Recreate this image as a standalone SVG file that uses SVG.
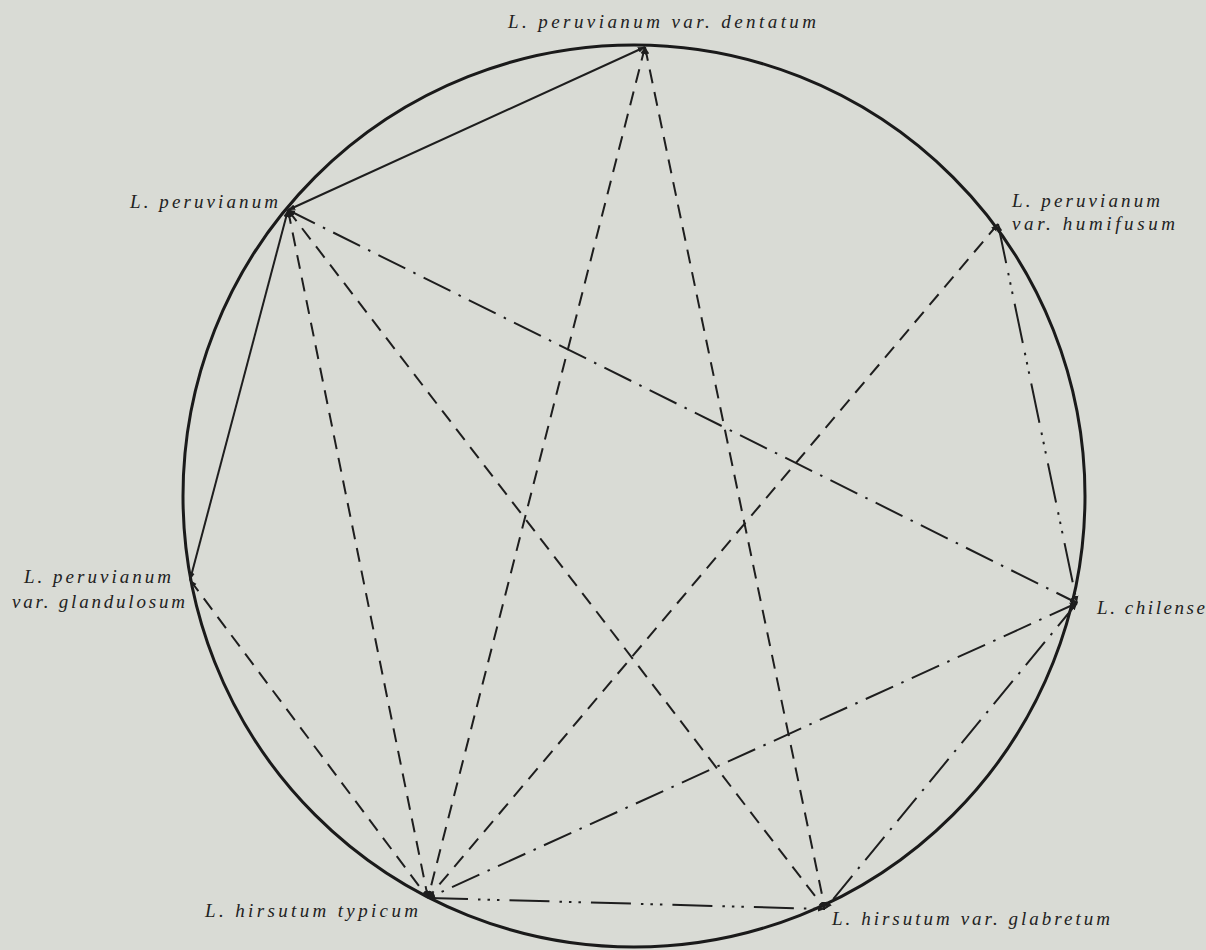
<svg xmlns="http://www.w3.org/2000/svg" width="1206" height="950" viewBox="0 0 1206 950">
<defs>
<style>
.lbl{font-family:"Liberation Serif","DejaVu Serif",serif;font-style:italic;font-size:19px;fill:#222}
.e{fill:none;stroke:#1e1e1e;stroke-width:2;marker-start:url(#ah);marker-end:url(#ah)}
.solid{}
.dash{stroke-dasharray:14 9}
.dd{stroke-dasharray:30 9 2.5 9}
.d3{stroke-dasharray:40 10 2.5 7 2.5 7 2.5 10}
</style>
<marker id="ah" viewBox="0 0 10 10" refX="10" refY="5" markerWidth="3.6" markerHeight="3.6" orient="auto-start-reverse" markerUnits="strokeWidth">
<path d="M0,1 L10,5 L0,9 Z" fill="#1e1e1e"/>
</marker>
</defs>
<rect width="1206" height="950" fill="#d9dbd5"/>
<circle cx="634" cy="496" r="451" fill="none" stroke="#1a1a1a" stroke-width="3"/>
<g id="connectors">
<line class="e solid" x1="288" y1="210" x2="645" y2="47"/>
<line class="e solid" x1="288" y1="210" x2="190" y2="580"/>
<line class="e dash" x1="645" y1="47" x2="428" y2="898"/>
<line class="e dash" x1="645" y1="47" x2="825" y2="909"/>
<line class="e dash" x1="288" y1="210" x2="428" y2="898"/>
<line class="e dash" x1="288" y1="210" x2="825" y2="909"/>
<line class="e dash" x1="998" y1="224" x2="428" y2="898"/>
<line class="e dash" x1="190" y1="580" x2="428" y2="898"/>
<line class="e dd" x1="288" y1="210" x2="1077" y2="603"/>
<line class="e dd" x1="1077" y1="603" x2="428" y2="898"/>
<line class="e dd" x1="1077" y1="603" x2="825" y2="909"/>
<line class="e d3" x1="998" y1="224" x2="1077" y2="603"/>
<line class="e d3" x1="428" y1="898" x2="825" y2="909"/>
</g>
<g id="n-dentatum"><text class="lbl" x="508" y="28" textLength="308" lengthAdjust="spacing">L. peruvianum var. dentatum</text></g>
<g id="n-peruvianum"><text class="lbl" x="130" y="208" textLength="148" lengthAdjust="spacing">L. peruvianum</text></g>
<g id="n-humifusum"><text class="lbl" x="1012" y="207" textLength="148" lengthAdjust="spacing">L. peruvianum</text><text class="lbl" x="1012" y="230" textLength="163" lengthAdjust="spacing">var. humifusum</text></g>
<g id="n-glandulosum"><text class="lbl" x="24" y="583" textLength="147" lengthAdjust="spacing">L. peruvianum</text><text class="lbl" x="12" y="608" textLength="173" lengthAdjust="spacing">var. glandulosum</text></g>
<g id="n-chilense"><text class="lbl" x="1097" y="614" textLength="108" lengthAdjust="spacing">L. chilense</text></g>
<g id="n-typicum"><text class="lbl" x="205" y="917" textLength="213" lengthAdjust="spacing">L. hirsutum typicum</text></g>
<g id="n-glabretum"><text class="lbl" x="832" y="925" textLength="278" lengthAdjust="spacing">L. hirsutum var. glabretum</text></g>
</svg>
